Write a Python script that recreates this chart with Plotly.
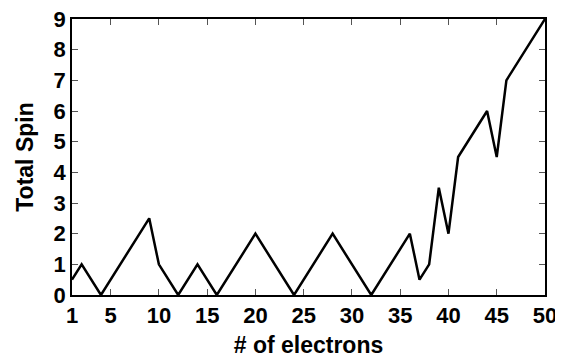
import plotly.graph_objects as go

electrons = [1, 2, 4, 9, 10, 12, 14, 16, 20, 24, 28, 32, 36, 37, 38, 39, 40, 41, 44, 45, 46, 50]
total_spin = [0.5, 1, 0, 2.5, 1, 0, 1, 0, 2, 0, 2, 0, 2, 0.5, 1, 3.5, 2, 4.5, 6, 4.5, 7, 9]
x_ticks = [1, 5, 10, 15, 20, 25, 30, 35, 40, 45, 50]
y_ticks = list(range(0, 10))

fig = go.Figure()
fig.add_trace(go.Scatter(x=electrons, y=total_spin, mode="lines",
                         line=dict(color="black", width=2.5), showlegend=False))

FAM = "Liberation Sans"
title_font = dict(family=FAM, size=23, color="black")
axis_common = dict(showgrid=False, zeroline=False, showline=True, linecolor="black",
                   linewidth=1.5, mirror="allticks", ticks="inside", ticklen=6,
                   tickcolor="#555", tickwidth=1, automargin=False,
                   ticklabeloverflow="allow",
                   tickfont=dict(family=FAM, size=22, color="black"))

fig.update_xaxes(range=[1, 50], tickvals=x_ticks, ticktext=[f"<b>{v}</b>" for v in x_ticks],
                 title=dict(text="<b># of electrons</b>", font=title_font, standoff=10), **axis_common)
fig.update_yaxes(range=[0, 9], tickvals=y_ticks, ticktext=[f"<b>{v}</b>" for v in y_ticks],
                 title=dict(text="<b>Total Spin</b>", font=title_font, standoff=14), **axis_common)

fig.update_layout(width=563, height=363, margin=dict(l=64, r=26, t=11, b=76),
                  plot_bgcolor="white", paper_bgcolor="white", font=title_font)

fig.write_html("out.html")
